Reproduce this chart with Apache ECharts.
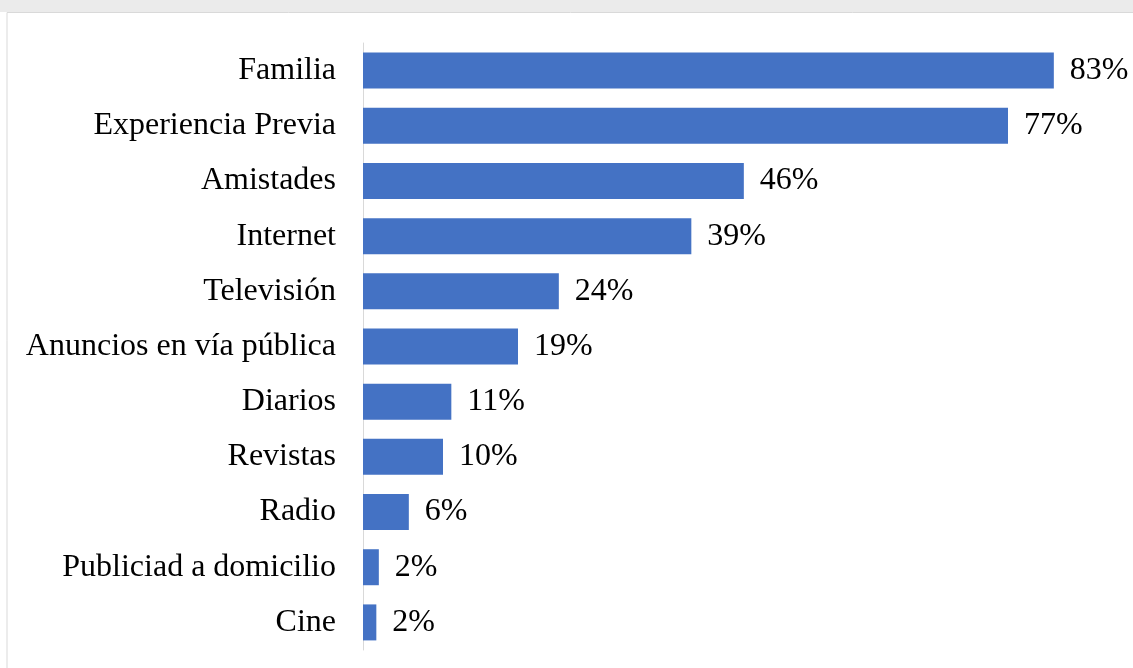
<!DOCTYPE html>
<html>
<head>
<meta charset="utf-8">
<script src="https://cdn.jsdelivr.net/npm/echarts@6/dist/echarts.min.js"></script>
<style>html,body{margin:0;padding:0;background:#fff;}#c{width:1133px;height:668px;}</style>
</head>
<body>
<div id="c"></div>
<script>
const categories = ["Familia","Experiencia Previa","Amistades","Internet","Televisión","Anuncios en vía pública","Diarios","Revistas","Radio","Publiciad a domicilio","Cine"];
const values = [82.9,77.4,45.7,39.4,23.5,18.6,10.6,9.6,5.5,1.9,1.6];

const chart = echarts.init(document.getElementById('c'));
chart.setOption({
  animation: false,
  backgroundColor: '#ffffff',
  graphic: [
    {type:'rect', shape:{x:0,y:0,width:1133,height:12}, style:{fill:'#ebebeb'}, silent:true},
    {type:'rect', shape:{x:7,y:12.5,width:1140,height:670}, style:{fill:'none',stroke:'#d9d9d9',lineWidth:1}, silent:true}
  ],
  grid: {left: 363, top: 43, width: 750, height: 607, containLabel: false},
  xAxis: {
    type: 'value', min: 0, max: 90, show: false
  },
  yAxis: {
    type: 'category',
    data: categories,
    inverse: true,
    axisLine: {show: true, lineStyle: {color: '#d9d9d9', width: 1}},
    axisTick: {show: false},
    axisLabel: {fontFamily: 'Liberation Serif', fontSize: 32, color: '#000', margin: 27}
  },
  series: [{
    type: 'bar',
    data: values,
    barWidth: 36,
    itemStyle: {color: '#4472C4'},
    label: {
      show: true, position: 'right', distance: 16,
      formatter: p => Math.round(p.value) + '%',
      fontFamily: 'Liberation Serif', fontSize: 32, color: '#000'
    }
  }]
});
</script>
</body>
</html>
